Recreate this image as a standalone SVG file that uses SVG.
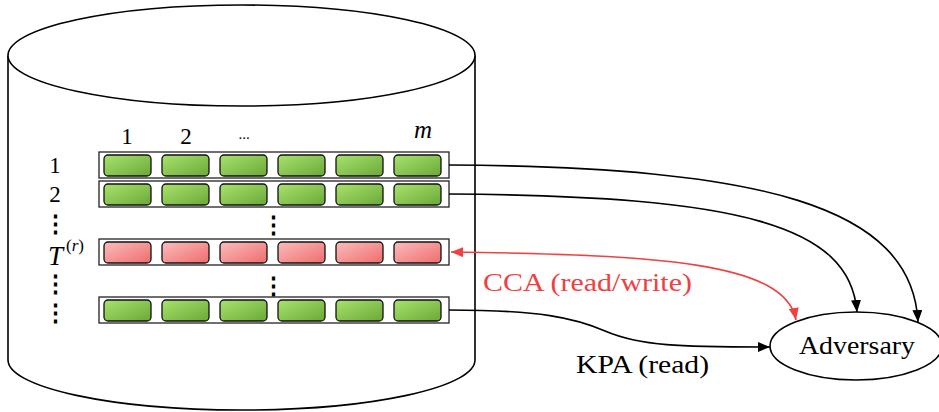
<svg xmlns="http://www.w3.org/2000/svg" width="939" height="412" viewBox="0 0 939 412">
<defs>
  <linearGradient id="gG" x1="0" y1="0" x2="1" y2="1">
    <stop offset="0" stop-color="#a9e26e"/>
    <stop offset="1" stop-color="#6aa937"/>
  </linearGradient>
  <linearGradient id="gR" x1="0" y1="0" x2="1" y2="1">
    <stop offset="0" stop-color="#fbbdbd"/>
    <stop offset="1" stop-color="#ef6c6c"/>
  </linearGradient>
  <marker id="ak" viewBox="0 0 12 10" refX="12" refY="5" markerWidth="12" markerHeight="10" markerUnits="userSpaceOnUse" orient="auto">
    <path d="M0,0 L12,5 L0,10 Z" fill="#000"/>
  </marker>
  <marker id="ar" viewBox="0 0 12 10" refX="12" refY="5" markerWidth="12" markerHeight="10" markerUnits="userSpaceOnUse" orient="auto">
    <path d="M0,0 L12,5 L0,10 Z" fill="#f04040"/>
  </marker>
  <marker id="arS" viewBox="0 0 12 10" refX="0" refY="5" markerWidth="12" markerHeight="10" markerUnits="userSpaceOnUse" orient="auto">
    <path d="M12,0 L0,5 L12,10 Z" fill="#f04040"/>
  </marker>
  <g id="cellsG">
    <rect x="104" y="3" width="47" height="21" rx="4"/>
    <rect x="162" y="3" width="47" height="21" rx="4"/>
    <rect x="220" y="3" width="47" height="21" rx="4"/>
    <rect x="278" y="3" width="47" height="21" rx="4"/>
    <rect x="336" y="3" width="47" height="21" rx="4"/>
    <rect x="394" y="3" width="47" height="21" rx="4"/>
  </g>
</defs>
<style>
  .t { font-family: "Liberation Serif", "DejaVu Serif", serif; fill: #000; }
  .row { fill: #fff; stroke: #222; stroke-width: 1.3; }
  .green { fill: url(#gG); stroke: #111; stroke-width: 1.3; }
  .red { fill: url(#gR); stroke: #111; stroke-width: 1.3; }
  .edge { fill: none; stroke: #000; stroke-width: 1.6; }
  .redge { fill: none; stroke: #f04040; stroke-width: 1.6; }
  .dots { font-family: "DejaVu Serif", serif; font-size: 23px; font-weight: bold; fill: #000; }
</style>

<g id="database">
  <path d="M8,55.5 L8,360 A233.5,50 0 0 0 475,360 L475,55.5" fill="#fff" stroke="#000" stroke-width="1.6"/>
  <ellipse cx="241.5" cy="55.5" rx="233.5" ry="50.5" fill="#fff" stroke="#000" stroke-width="1.6"/>
</g>

<g id="labels">
  <text class="t" x="127" y="144" font-size="23" text-anchor="middle">1</text>
  <text class="t" x="186" y="144" font-size="23" text-anchor="middle">2</text>
  <text class="t" x="244" y="139" font-size="15" text-anchor="middle">...</text>
  <text class="t" x="423" y="138" font-size="25" font-style="italic" text-anchor="middle">m</text>
  <text class="t" x="55" y="173" font-size="23" text-anchor="middle">1</text>
  <text class="t" x="55" y="202" font-size="23" text-anchor="middle">2</text>
  <text class="t" x="48" y="265" font-size="27" font-style="italic">T</text>
  <text class="t" x="66" y="251" font-size="17">(<tspan font-style="italic">r</tspan>)</text>
  <text class="dots" x="55" y="231" text-anchor="middle">⋮</text>
  <text class="dots" x="55" y="291" text-anchor="middle">⋮</text>
  <text class="dots" x="55" y="320" text-anchor="middle">⋮</text>
  <text class="dots" x="273" y="232" text-anchor="middle">⋮</text>
  <text class="dots" x="273" y="293" text-anchor="middle">⋮</text>
</g>

<g id="row1">
  <rect class="row" x="99" y="152" width="350" height="26"/>
  <use href="#cellsG" class="green" transform="translate(0,152)"/>
</g>
<g id="row2">
  <rect class="row" x="99" y="181" width="350" height="26"/>
  <use href="#cellsG" class="green" transform="translate(0,181)"/>
</g>
<g id="rowT">
  <rect class="row" x="99" y="239" width="350" height="26"/>
  <use href="#cellsG" class="red" transform="translate(0,239)"/>
</g>
<g id="rowLast">
  <rect class="row" x="99" y="297" width="350" height="26"/>
  <use href="#cellsG" class="green" transform="translate(0,297)"/>
</g>

<g id="adversary">
  <ellipse cx="856" cy="346" rx="86" ry="34" fill="#fff" stroke="#000" stroke-width="1.6"/>
  <text class="t" x="857" y="354" font-size="26" text-anchor="middle" textLength="116" lengthAdjust="spacingAndGlyphs">Adversary</text>
</g>

<g id="connectors">
  <path class="edge" d="M449,165 C760,167 912,205 918,322" marker-end="url(#ak)"/>
  <path class="edge" d="M449,194 C740,196 850,225 857,312" marker-end="url(#ak)"/>
  <path class="redge" d="M451,252 C660,255 785,262 796,320" marker-start="url(#arS)" marker-end="url(#ar)"/>
  <path class="edge" d="M449,310 C540,310 575,318 605,331 C640,346 680,347 770,347" marker-end="url(#ak)"/>
  <text class="t" x="483" y="291" font-size="26" style="fill:#f04040" textLength="209" lengthAdjust="spacingAndGlyphs">CCA (read/write)</text>
  <text class="t" x="576" y="373" font-size="26" textLength="133" lengthAdjust="spacingAndGlyphs">KPA (read)</text>
</g>
</svg>
